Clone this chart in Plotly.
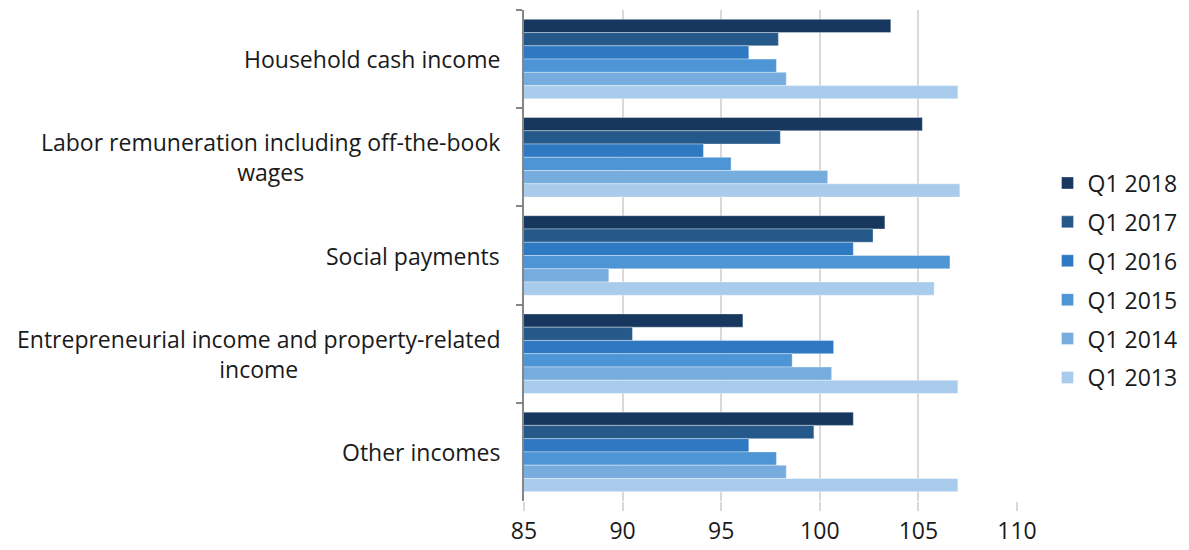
import plotly.graph_objects as go

# Income categories (top to bottom) and the yearly index values per series
categories = [
    "Household cash income",
    "Labor remuneration including off-the-book<br>wages",
    "Social payments",
    "Entrepreneurial income and property-related<br>income",
    "Other incomes",
]
series_names = ["Q1 2018", "Q1 2017", "Q1 2016", "Q1 2015", "Q1 2014", "Q1 2013"]
q1_2018 = [103.6, 105.2, 103.3, 96.1, 101.7]
q1_2017 = [97.9, 98.0, 102.7, 90.5, 99.7]
q1_2016 = [96.4, 94.1, 101.7, 100.7, 96.4]
q1_2015 = [97.8, 95.5, 106.6, 98.6, 97.8]
q1_2014 = [98.3, 100.4, 89.3, 100.6, 98.3]
q1_2013 = [107.0, 107.1, 105.8, 107.0, 107.0]
x_ticks = [85, 90, 95, 100, 105, 110]

series_values = [q1_2018, q1_2017, q1_2016, q1_2015, q1_2014, q1_2013]
colors = ["#17375E", "#24598A", "#2E79C2", "#4E95D6", "#77ACDE", "#AACCEC"]

FONT = "Open Sans"
TEXT = "#1a1a1a"
FS = 23

fig = go.Figure()
for name, vals, col in zip(series_names, series_values, colors):
    fig.add_trace(go.Bar(
        y=categories,
        x=vals,
        name=name,
        orientation="h",
        marker=dict(color=col, line=dict(color="rgba(255,255,255,0.35)", width=1)),
        legendgroup=name,
    ))

# Category labels, centred line by line and right-aligned next to the axis
for cat in categories:
    fig.add_annotation(
        x=0, xref="paper", y=cat, yref="y",
        text=cat, showarrow=False,
        xanchor="right", yanchor="middle", align="center",
        xshift=-22,
        font=dict(family=FONT, size=FS, color=TEXT),
    )

fig.update_layout(
    width=1189, height=550,
    margin=dict(l=524, r=172, t=10, b=49, autoexpand=False),
    paper_bgcolor="white", plot_bgcolor="white",
    barmode="group", bargap=0.19, bargroupgap=0,
    font=dict(family=FONT, size=FS, color=TEXT),
    legend=dict(
        xref="container", yref="container",
        x=0.881, xanchor="left", y=0.49, yanchor="middle",
        traceorder="grouped", tracegroupgap=6,
        font=dict(family=FONT, size=FS, color=TEXT),
        itemwidth=30,
    ),
    xaxis=dict(
        range=[85, 110], tickvals=x_ticks, automargin=False,
        showgrid=True, gridcolor="#D9D9D9", gridwidth=1.5,
        zeroline=False, showline=False,
        ticks="outside", ticklen=9, tickcolor="#D9D9D9", tickwidth=1.5,
        tickfont=dict(family=FONT, size=FS, color=TEXT),
    ),
    yaxis=dict(
        autorange="reversed", type="category", automargin=False,
        showticklabels=False, showgrid=False, zeroline=False,
        showline=True, linecolor="#868686", linewidth=1.5,
        ticks="outside", tickson="boundaries", ticklen=6,
        tickcolor="#868686", tickwidth=1.5,
    ),
)

fig.write_html("out.html")
